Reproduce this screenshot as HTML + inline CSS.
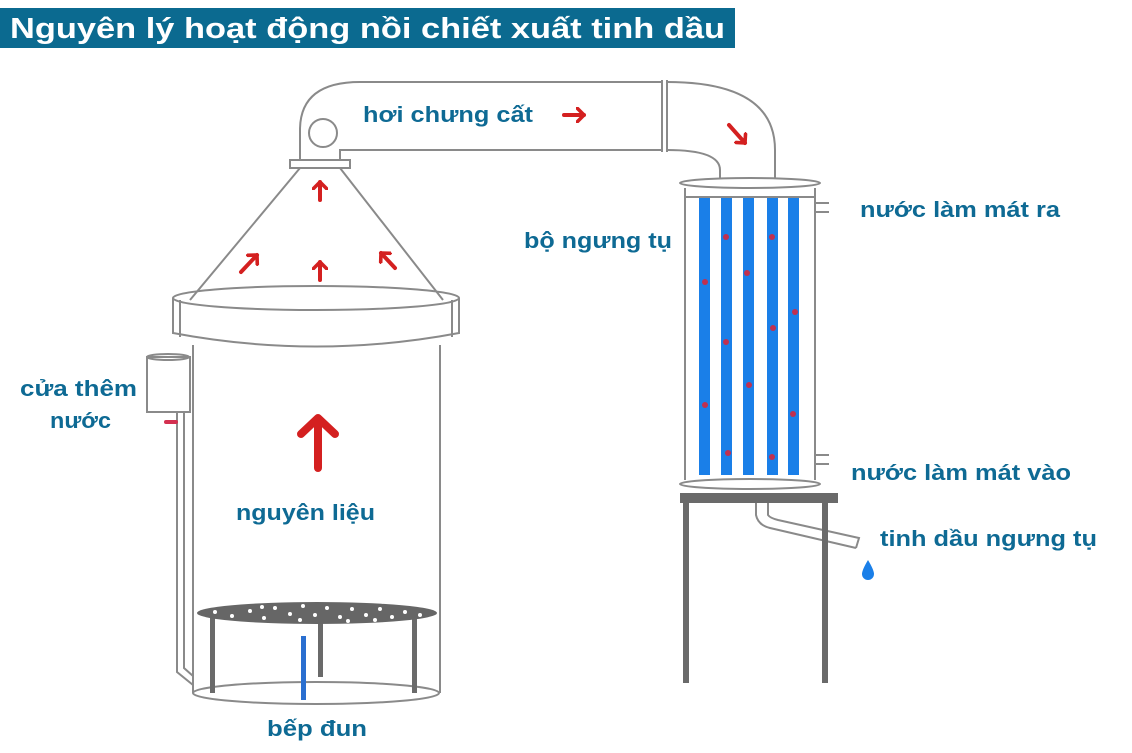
<!DOCTYPE html>
<html><head><meta charset="utf-8"><style>
html,body{margin:0;padding:0;background:#fff;width:1132px;height:753px;overflow:hidden}
svg{display:block}
.l{font-family:"Liberation Sans","DejaVu Sans",sans-serif;font-weight:bold;font-size:22px;fill:#0e6a94}
</style></head><body>
<svg width="1132" height="753" viewBox="0 0 1132 753" xmlns="http://www.w3.org/2000/svg">
<defs>
<marker id="ah" markerWidth="4" markerHeight="4" refX="2" refY="2" orient="auto" markerUnits="strokeWidth"><path d="M0.3,0.3 L2,2 L0.3,3.7" fill="none" stroke="#d42020" stroke-width="0.9" stroke-linecap="round" stroke-linejoin="round"/></marker>
</defs>
<rect x="0" y="8" width="735" height="40" fill="#0b6a90"/>
<text x="10" y="38" font-family="Liberation Sans, DejaVu Sans, sans-serif" font-weight="bold" font-size="29" fill="#fff" textLength="715" lengthAdjust="spacingAndGlyphs">Nguyên lý hoạt động nồi chiết xuất tinh dầu</text>

<g fill="none" stroke="#8a8a8a" stroke-width="2">
<path d="M300,160 L300,130 Q300,82 360,82 L662,82"/>
<path d="M340,160 L340,150 Q345,150 370,150 L662,150"/>
<path d="M662,80 L662,152 M667,80 L667,152"/>
<path d="M667,82 Q775,82 775,150 L775,182"/>
<path d="M667,150 Q720,150 720,170 L720,182"/>
<circle cx="323" cy="133" r="14"/>
<rect x="290" y="160" width="60" height="8"/>
<path d="M300,168 L190,300 M340,168 L443,300"/>
<ellipse cx="316" cy="298" rx="143" ry="12"/>
<path d="M173,298 L173,333 Q316,360 459,333 L459,298"/>
<path d="M180,300 L180,337 M452,300 L452,337"/>
<path d="M193,345 L193,693 M440,345 L440,693"/>
<ellipse cx="316" cy="693" rx="123" ry="11"/>
<rect x="147" y="357" width="43" height="55" fill="#fff"/>
<ellipse cx="168" cy="357" rx="21" ry="3"/>
<path d="M177,412 L177,672 L193,685 M184,412 L184,668 L193,676"/>
<ellipse cx="750" cy="183" rx="70" ry="5" fill="#fff"/>
<path d="M685,188 L685,480 M815,188 L815,480"/>
<path d="M685,197 L815,197"/>
<ellipse cx="750" cy="484" rx="70" ry="5" fill="#fff"/>
<path d="M815,203 L829,203 M815,212 L829,212 M815,455 L829,455 M815,464 L829,464"/>
<path d="M756,503 L756,515 Q758,525 770,528 L856,548 M768,503 L768,515 Q770,518 778,520 L859,538 L856,548"/>
</g>
<g fill="#1a7fe8">
<rect x="699" y="198" width="11" height="277"/>
<rect x="721" y="198" width="11" height="277"/>
<rect x="743" y="198" width="11" height="277"/>
<rect x="767" y="198" width="11" height="277"/>
<rect x="788" y="198" width="11" height="277"/>
</g>
<g fill="#c03050">
<circle cx="705" cy="282" r="3"/><circle cx="705" cy="405" r="3"/>
<circle cx="726" cy="237" r="3"/><circle cx="726" cy="342" r="3"/><circle cx="728" cy="453" r="3"/>
<circle cx="747" cy="273" r="3"/><circle cx="749" cy="385" r="3"/>
<circle cx="772" cy="237" r="3"/><circle cx="773" cy="328" r="3"/><circle cx="772" cy="457" r="3"/>
<circle cx="795" cy="312" r="3"/><circle cx="793" cy="414" r="3"/>
</g>
<rect x="680" y="493" width="158" height="10" fill="#6a6a6a"/>
<rect x="683" y="503" width="6" height="180" fill="#6a6a6a"/>
<rect x="822" y="503" width="6" height="180" fill="#6a6a6a"/>
<path d="M868,560 Q862,570 862,574 A6,6 0 0 0 874,574 Q874,570 868,560Z" fill="#1a7fe8"/>
<g fill="#6a6a6a">
<rect x="210" y="615" width="5" height="78"/>
<rect x="318" y="615" width="5" height="62"/>
<rect x="412" y="615" width="5" height="78"/>
</g>
<ellipse cx="317" cy="613" rx="120" ry="11" fill="#666"/>
<g fill="#fff">
<circle cx="232" cy="616" r="2"/><circle cx="250" cy="611" r="2"/><circle cx="264" cy="618" r="2"/><circle cx="275" cy="608" r="2"/><circle cx="290" cy="614" r="2"/><circle cx="303" cy="606" r="2"/><circle cx="315" cy="615" r="2"/><circle cx="327" cy="608" r="2"/><circle cx="340" cy="617" r="2"/><circle cx="352" cy="609" r="2"/><circle cx="366" cy="615" r="2"/><circle cx="380" cy="609" r="2"/><circle cx="392" cy="617" r="2"/><circle cx="405" cy="612" r="2"/><circle cx="420" cy="615" r="2"/><circle cx="262" cy="607" r="2"/><circle cx="300" cy="620" r="2"/><circle cx="348" cy="621" r="2"/><circle cx="375" cy="620" r="2"/><circle cx="215" cy="612" r="2"/>
</g>
<rect x="301" y="636" width="5" height="64" fill="#2a6fd0"/>
<rect x="164" y="420" width="14" height="4" rx="2" fill="#d43050"/>
<g stroke="#d42020" stroke-width="4" fill="none" stroke-linecap="round" marker-end="url(#ah)">
<path d="M320,200 L320,182"/>
<path d="M320,280 L320,262"/>
<path d="M241,272 L257,255"/>
<path d="M395,268 L381,253"/>
<path d="M564,115 L584,115"/>
<path d="M729,125 L745,143"/>
</g>
<path d="M318,468 L318,425" stroke="#d42020" stroke-width="8" stroke-linecap="round"/>
<path d="M301,434 L318,418 L335,434" stroke="#d42020" stroke-width="8" fill="none" stroke-linecap="round" stroke-linejoin="round"/>
<text class="l" x="363" y="122" textLength="170" lengthAdjust="spacingAndGlyphs">hơi chưng cất</text>
<text class="l" x="524" y="248" textLength="148" lengthAdjust="spacingAndGlyphs">bộ ngưng tụ</text>
<text class="l" x="860" y="217" textLength="200" lengthAdjust="spacingAndGlyphs">nước làm mát ra</text>
<text class="l" x="20" y="396" textLength="117" lengthAdjust="spacingAndGlyphs">cửa thêm</text>
<text class="l" x="50" y="428" textLength="61" lengthAdjust="spacingAndGlyphs">nước</text>
<text class="l" x="236" y="520" textLength="139" lengthAdjust="spacingAndGlyphs">nguyên liệu</text>
<text class="l" x="851" y="480" textLength="220" lengthAdjust="spacingAndGlyphs">nước làm mát vào</text>
<text class="l" x="880" y="546" textLength="217" lengthAdjust="spacingAndGlyphs">tinh dầu ngưng tụ</text>
<text class="l" x="267" y="736" textLength="100" lengthAdjust="spacingAndGlyphs">bếp đun</text>
</svg>
</body></html>
